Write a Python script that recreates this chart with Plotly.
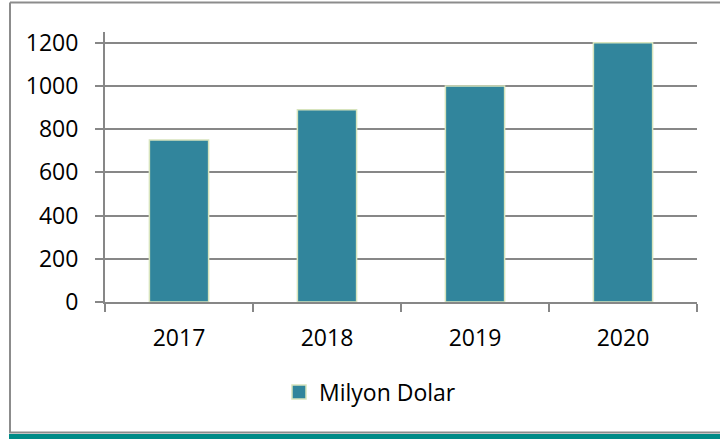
import plotly.graph_objects as go

years = ["2017", "2018", "2019", "2020"]
values = [750, 890, 1000, 1200]
series_name = "Milyon Dolar"
y_ticks = [0, 200, 400, 600, 800, 1000, 1200]

W, H = 720, 439
L, R, T, B = 105, 697, 32, 302  # plot area pixels

def px(x):
    return (x - L) / (R - L)

def py(y):
    return (B - y) / (B - T)

bar_color = "#31859C"
edge_color = "#D7E4BD"

fig = go.Figure()
fig.add_trace(go.Bar(
    x=years, y=values, name=series_name,
    marker=dict(color=bar_color, line=dict(color=edge_color, width=1.5)),
    showlegend=False,
))
# legend entry (square swatch like the reference)
fig.add_trace(go.Scatter(
    x=[None], y=[None], mode="markers", name=series_name,
    marker=dict(symbol="square", size=14, color=bar_color, line=dict(color=edge_color, width=1.5)),
    showlegend=True, hoverinfo="skip",
))

grid = "#878787"
font = dict(family="Open Sans", size=23, color="#000000")

fig.update_layout(
    width=W, height=H,
    margin=dict(l=L, r=W - R, t=T, b=H - B, pad=0),
    paper_bgcolor="white", plot_bgcolor="white",
    font=font,
    bargap=0.6,
    showlegend=True,
    legend=dict(orientation="h", x=px(279), xanchor="left", y=py(392), yanchor="middle",
                font=dict(family="Open Sans", size=23, color="#000000"),
                itemsizing="trace", bgcolor="rgba(0,0,0,0)"),
    xaxis=dict(
        type="category", showgrid=False, showline=True, linecolor=grid, linewidth=2,
        ticks="outside", tickson="boundaries", ticklen=8, tickcolor=grid, tickwidth=2,
        ticklabelstandoff=14, zeroline=False,
    ),
    yaxis=dict(
        range=[0, 1250], tickvals=y_ticks, showgrid=True, gridcolor=grid, gridwidth=2,
        showline=True, linecolor=grid, linewidth=2, zeroline=False,
        ticks="outside", ticklen=8, tickcolor=grid, tickwidth=2,
        ticklabelstandoff=12,
    ),
)

shapes = [
    dict(type="line", xref="paper", yref="paper", x0=px(10), x1=px(10), y0=py(2.5), y1=py(432), line=dict(color="#8C8C8C", width=2)),
    dict(type="line", xref="paper", yref="paper", x0=px(10), x1=px(722), y0=py(2.5), y1=py(2.5), line=dict(color="#8C8C8C", width=2)),
    dict(type="line", xref="paper", yref="paper", x0=px(9), x1=px(722), y0=py(432.5), y1=py(432.5), line=dict(color="#8C8C8C", width=2)),
    dict(type="rect", xref="paper", yref="paper", x0=px(9), x1=px(722), y0=py(434), y1=py(440), fillcolor="#008B87", line=dict(width=0)),
]
fig.update_layout(shapes=shapes)

fig.write_html("out.html")
